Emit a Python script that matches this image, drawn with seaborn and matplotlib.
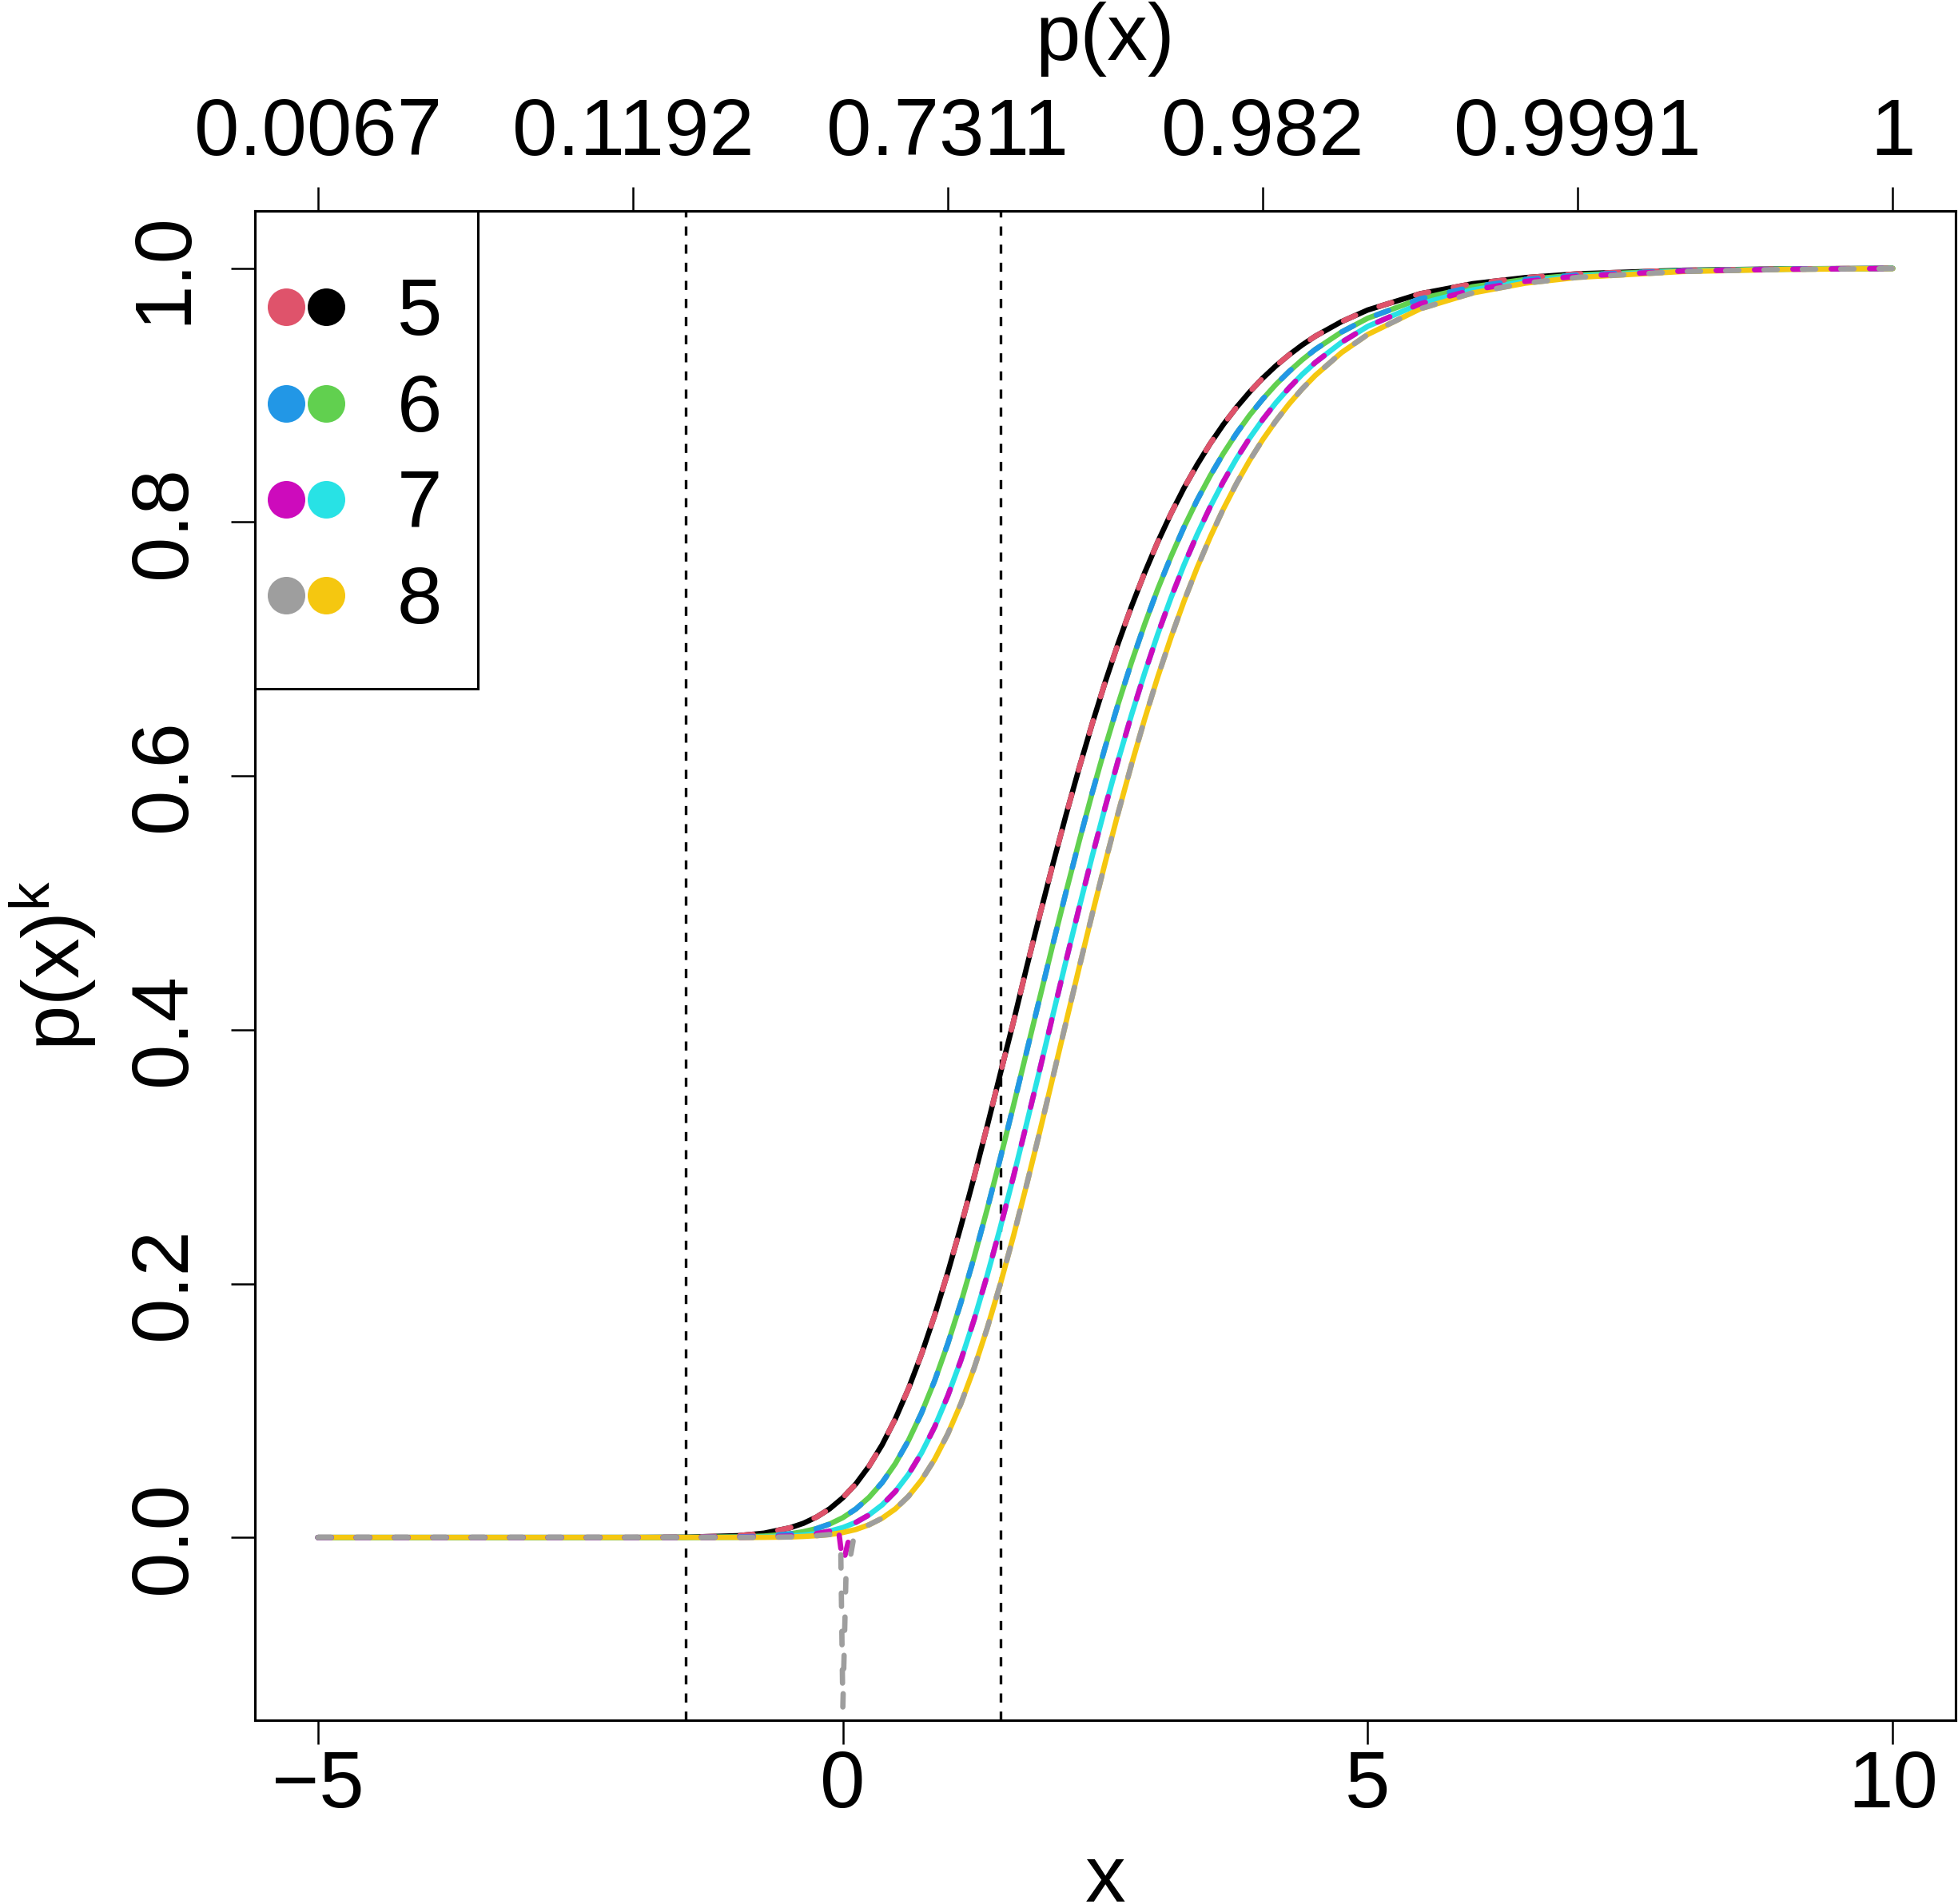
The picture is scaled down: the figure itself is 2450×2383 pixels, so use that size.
import pandas as pd
import seaborn as sns
import matplotlib.pyplot as plt
from matplotlib.patches import Rectangle

# values: p(x)^k for k = 5..8
x_grid = [-5, -4, -3, -2, -1.5, -1, -0.75, -0.5, -0.375, -0.25, -0.125, 0, 0.125, 0.25,
          0.375, 0.5, 0.625, 0.75, 0.875, 1, 1.125, 1.25, 1.375, 1.5, 1.625, 1.75, 1.875,
          2, 2.125, 2.25, 2.375, 2.5, 2.625, 2.75, 2.875, 3, 3.125, 3.25, 3.375, 3.5,
          3.625, 3.75, 3.875, 4, 4.125, 4.25, 4.375, 4.5, 4.75, 5, 5.5, 6, 6.5, 7, 8, 9, 10]
k5 = [0, 0, 0, 0.00002, 0.0002, 0.0014, 0.0034, 0.0077, 0.0112, 0.0161, 0.0226, 0.0313,
      0.0423, 0.0562, 0.0731, 0.0934, 0.1172, 0.1445, 0.1751, 0.2088, 0.2452, 0.2838,
      0.3240, 0.3653, 0.4062, 0.4489, 0.4900, 0.5301, 0.5689, 0.6059, 0.6410, 0.6741,
      0.7049, 0.7336, 0.7600, 0.7843, 0.8065, 0.8268, 0.8451, 0.8618, 0.8768, 0.8903,
      0.9024, 0.9133, 0.9230, 0.9316, 0.9394, 0.9463, 0.9578, 0.9670, 0.9798, 0.9877,
      0.9925, 0.9955, 0.9983, 0.9994, 0.9998]
k6 = [0, 0, 0, 0, 0.00004, 0.0004, 0.0011, 0.0029, 0.0046, 0.0070, 0.0106, 0.0156,
      0.0225, 0.0316, 0.0433, 0.0582, 0.0764, 0.0982, 0.1236, 0.1527, 0.1851, 0.2206,
      0.2586, 0.2987, 0.3401, 0.3824, 0.4248, 0.4670, 0.5082, 0.5481, 0.5865, 0.6229,
      0.6573, 0.6895, 0.7194, 0.7472, 0.7726, 0.7960, 0.8172, 0.8365, 0.8540, 0.8698,
      0.8841, 0.8968, 0.9083, 0.9185, 0.9277, 0.9359, 0.9496, 0.9605, 0.9758, 0.9853,
      0.9910, 0.9946, 0.9980, 0.9993, 0.9997]
k7 = [0, 0, 0, 0, 0.00001, 0.0001, 0.0004, 0.0011, 0.0019, 0.0031, 0.0050, 0.0078,
      0.0119, 0.0178, 0.0257, 0.0362, 0.0497, 0.0667, 0.0872, 0.1116, 0.1397, 0.1715,
      0.2064, 0.2442, 0.2842, 0.3258, 0.3683, 0.4113, 0.4540, 0.4958, 0.5366, 0.5757,
      0.6129, 0.6481, 0.6810, 0.7117, 0.7401, 0.7662, 0.7901, 0.8120, 0.8319, 0.8499,
      0.8661, 0.8807, 0.8939, 0.9056, 0.9162, 0.9256, 0.9415, 0.9541, 0.9719, 0.9828,
      0.9895, 0.9936, 0.9977, 0.9991, 0.9997]
k8 = [0, 0, 0, 0, 0, 0.00003, 0.0001, 0.0004, 0.0008, 0.0014, 0.0023, 0.0039,
      0.0063, 0.0100, 0.0152, 0.0225, 0.0324, 0.0453, 0.0616, 0.0816, 0.1055, 0.1333,
      0.1648, 0.1996, 0.2374, 0.2776, 0.3194, 0.3623, 0.4055, 0.4486, 0.4909, 0.5320,
      0.5715, 0.6091, 0.6447, 0.6780, 0.7089, 0.7376, 0.7640, 0.7882, 0.8103, 0.8303,
      0.8485, 0.8649, 0.8796, 0.8929, 0.9048, 0.9154, 0.9334, 0.9477, 0.9679, 0.9804,
      0.9881, 0.9927, 0.9973, 0.9990, 0.9996]

# the dashed (approximate) curves for k=7,8 break down near x=0
spike7_x = [-0.05, 0.0, 0.1]
spike7_y = [0.012, -0.021, 0.013]
spike8_x = [-0.08, -0.02, 0.0, 0.03, 0.07, 0.1]
spike8_y = [0.001, -0.008, -0.134, -0.03, -0.016, -0.002]

ks = [5, 6, 7, 8]
solid_colors = ['black', '#61D04F', '#28E2E5', '#F5C710']
dashed_colors = ['#DF536B', '#2297E6', '#CD0BBC', '#9E9E9E']
vlines_x = [-1.5, 1.5]
bottom_ticks = [-5, 0, 5, 10]
bottom_labels = ['\u22125', '0', '5', '10']
top_ticks = [-5, -2, 1, 4, 7, 10]
top_labels = ['0.0067', '0.1192', '0.7311', '0.982', '0.9991', '1']
y_ticks = [0.0, 0.2, 0.4, 0.6, 0.8, 1.0]
y_labels = ['0.0', '0.2', '0.4', '0.6', '0.8', '1.0']


def with_spike(ys, sx, sy):
    pts = [(x, y) for x, y in zip(x_grid, ys) if abs(x) > 0.12]
    pts += list(zip(sx, sy))
    pts.sort()
    return pd.DataFrame(pts, columns=['x', 'y'])


solid = {k: pd.DataFrame({'x': x_grid, 'y': ys}) for k, ys in zip(ks, [k5, k6, k7, k8])}
dashed = {5: solid[5], 6: solid[6],
          7: with_spike(k7, spike7_x, spike7_y),
          8: with_spike(k8, spike8_x, spike8_y)}

sns.set_style('white', rc={'text.color': 'black', 'axes.labelcolor': 'black',
                           'xtick.color': 'black', 'ytick.color': 'black',
                           'axes.edgecolor': 'black'})
plt.rcParams['font.family'] = ['Liberation Sans', 'DejaVu Sans']
plt.rcParams['mathtext.fontset'] = 'custom'
plt.rcParams['mathtext.rm'] = 'Liberation Sans'
plt.rcParams['mathtext.it'] = 'Liberation Sans'
FS = 73

fig = plt.figure(figsize=(24.5, 23.83), dpi=100)
ax = fig.add_axes([0.1302, 0.0965, 0.8686, 0.7927])

for x in vlines_x:
    ax.axvline(x, color='black', lw=2.4, linestyle=(0, (3.4, 3.4)), zorder=1)

for k, c in zip(ks, solid_colors):
    sns.lineplot(data=solid[k], x='x', y='y', color=c, lw=4.8, sort=False,
                 estimator=None, ax=ax, solid_capstyle='round',
                 solid_joinstyle='round', zorder=2)
for k, c in zip(ks, dashed_colors):
    sns.lineplot(data=dashed[k], x='x', y='y', color=c, lw=4.8, sort=False,
                 estimator=None, ax=ax, linestyle=(0, (2.5, 4.7)),
                 dash_capstyle='round', dash_joinstyle='round', zorder=3)

ax.set_xlim(-5.6, 10.6)
ax.set_ylim(-0.144, 1.045)
for s in ax.spines.values():
    s.set_linewidth(2.2)
    s.set_color('black')

ax.set_xticks(bottom_ticks)
ax.set_xticklabels(bottom_labels, fontsize=FS)
ax.set_yticks(y_ticks)
ax.set_yticklabels(y_labels, fontsize=FS, rotation=90, va='center')
ax.tick_params(axis='x', length=21.6, width=1.8, direction='out', pad=4, bottom=True)
ax.tick_params(axis='y', length=21.6, width=1.8, direction='out', pad=26, left=True)

ax.set_xlabel('x', fontsize=FS)
ax.xaxis.set_label_coords(0.5, -0.0815)
ax.set_ylabel(r'$\mathrm{p(x)^k}$', fontsize=FS)
ax.yaxis.set_label_coords(-0.0921, 0.5)

ax2 = ax.twiny()
ax2.set_xlim(ax.get_xlim())
ax2.set_xticks(top_ticks)
ax2.set_xticklabels(top_labels, fontsize=FS)
ax2.tick_params(axis='x', length=21.6, width=1.8, direction='out', pad=14, top=True)
ax2.set_xlabel('p(x)', fontsize=FS)
ax2.xaxis.set_label_coords(0.5, 1.100)
for s in ax2.spines.values():
    s.set_linewidth(2.2)

# legend box drawn by hand: two dots per k, then the label
ax.add_patch(Rectangle((0, 0.6834), 0.1311, 0.3166, transform=ax.transAxes,
                       facecolor='white', edgecolor='black', lw=2.2, zorder=5))
rows_y = [0.9365, 0.8724, 0.8089, 0.7454]
for k, ry, dc, sc in zip(ks, rows_y, dashed_colors, solid_colors):
    ax.scatter([0.0183], [ry], s=1145, color=dc, transform=ax.transAxes,
               zorder=6, linewidths=0)
    ax.scatter([0.0418], [ry], s=1145, color=sc, transform=ax.transAxes,
               zorder=6, linewidths=0)
    ax.text(0.0968, ry - 0.0185, str(k), fontsize=FS, ha='center', va='baseline',
            transform=ax.transAxes, zorder=6)

fig.savefig('out.png', dpi=100)
